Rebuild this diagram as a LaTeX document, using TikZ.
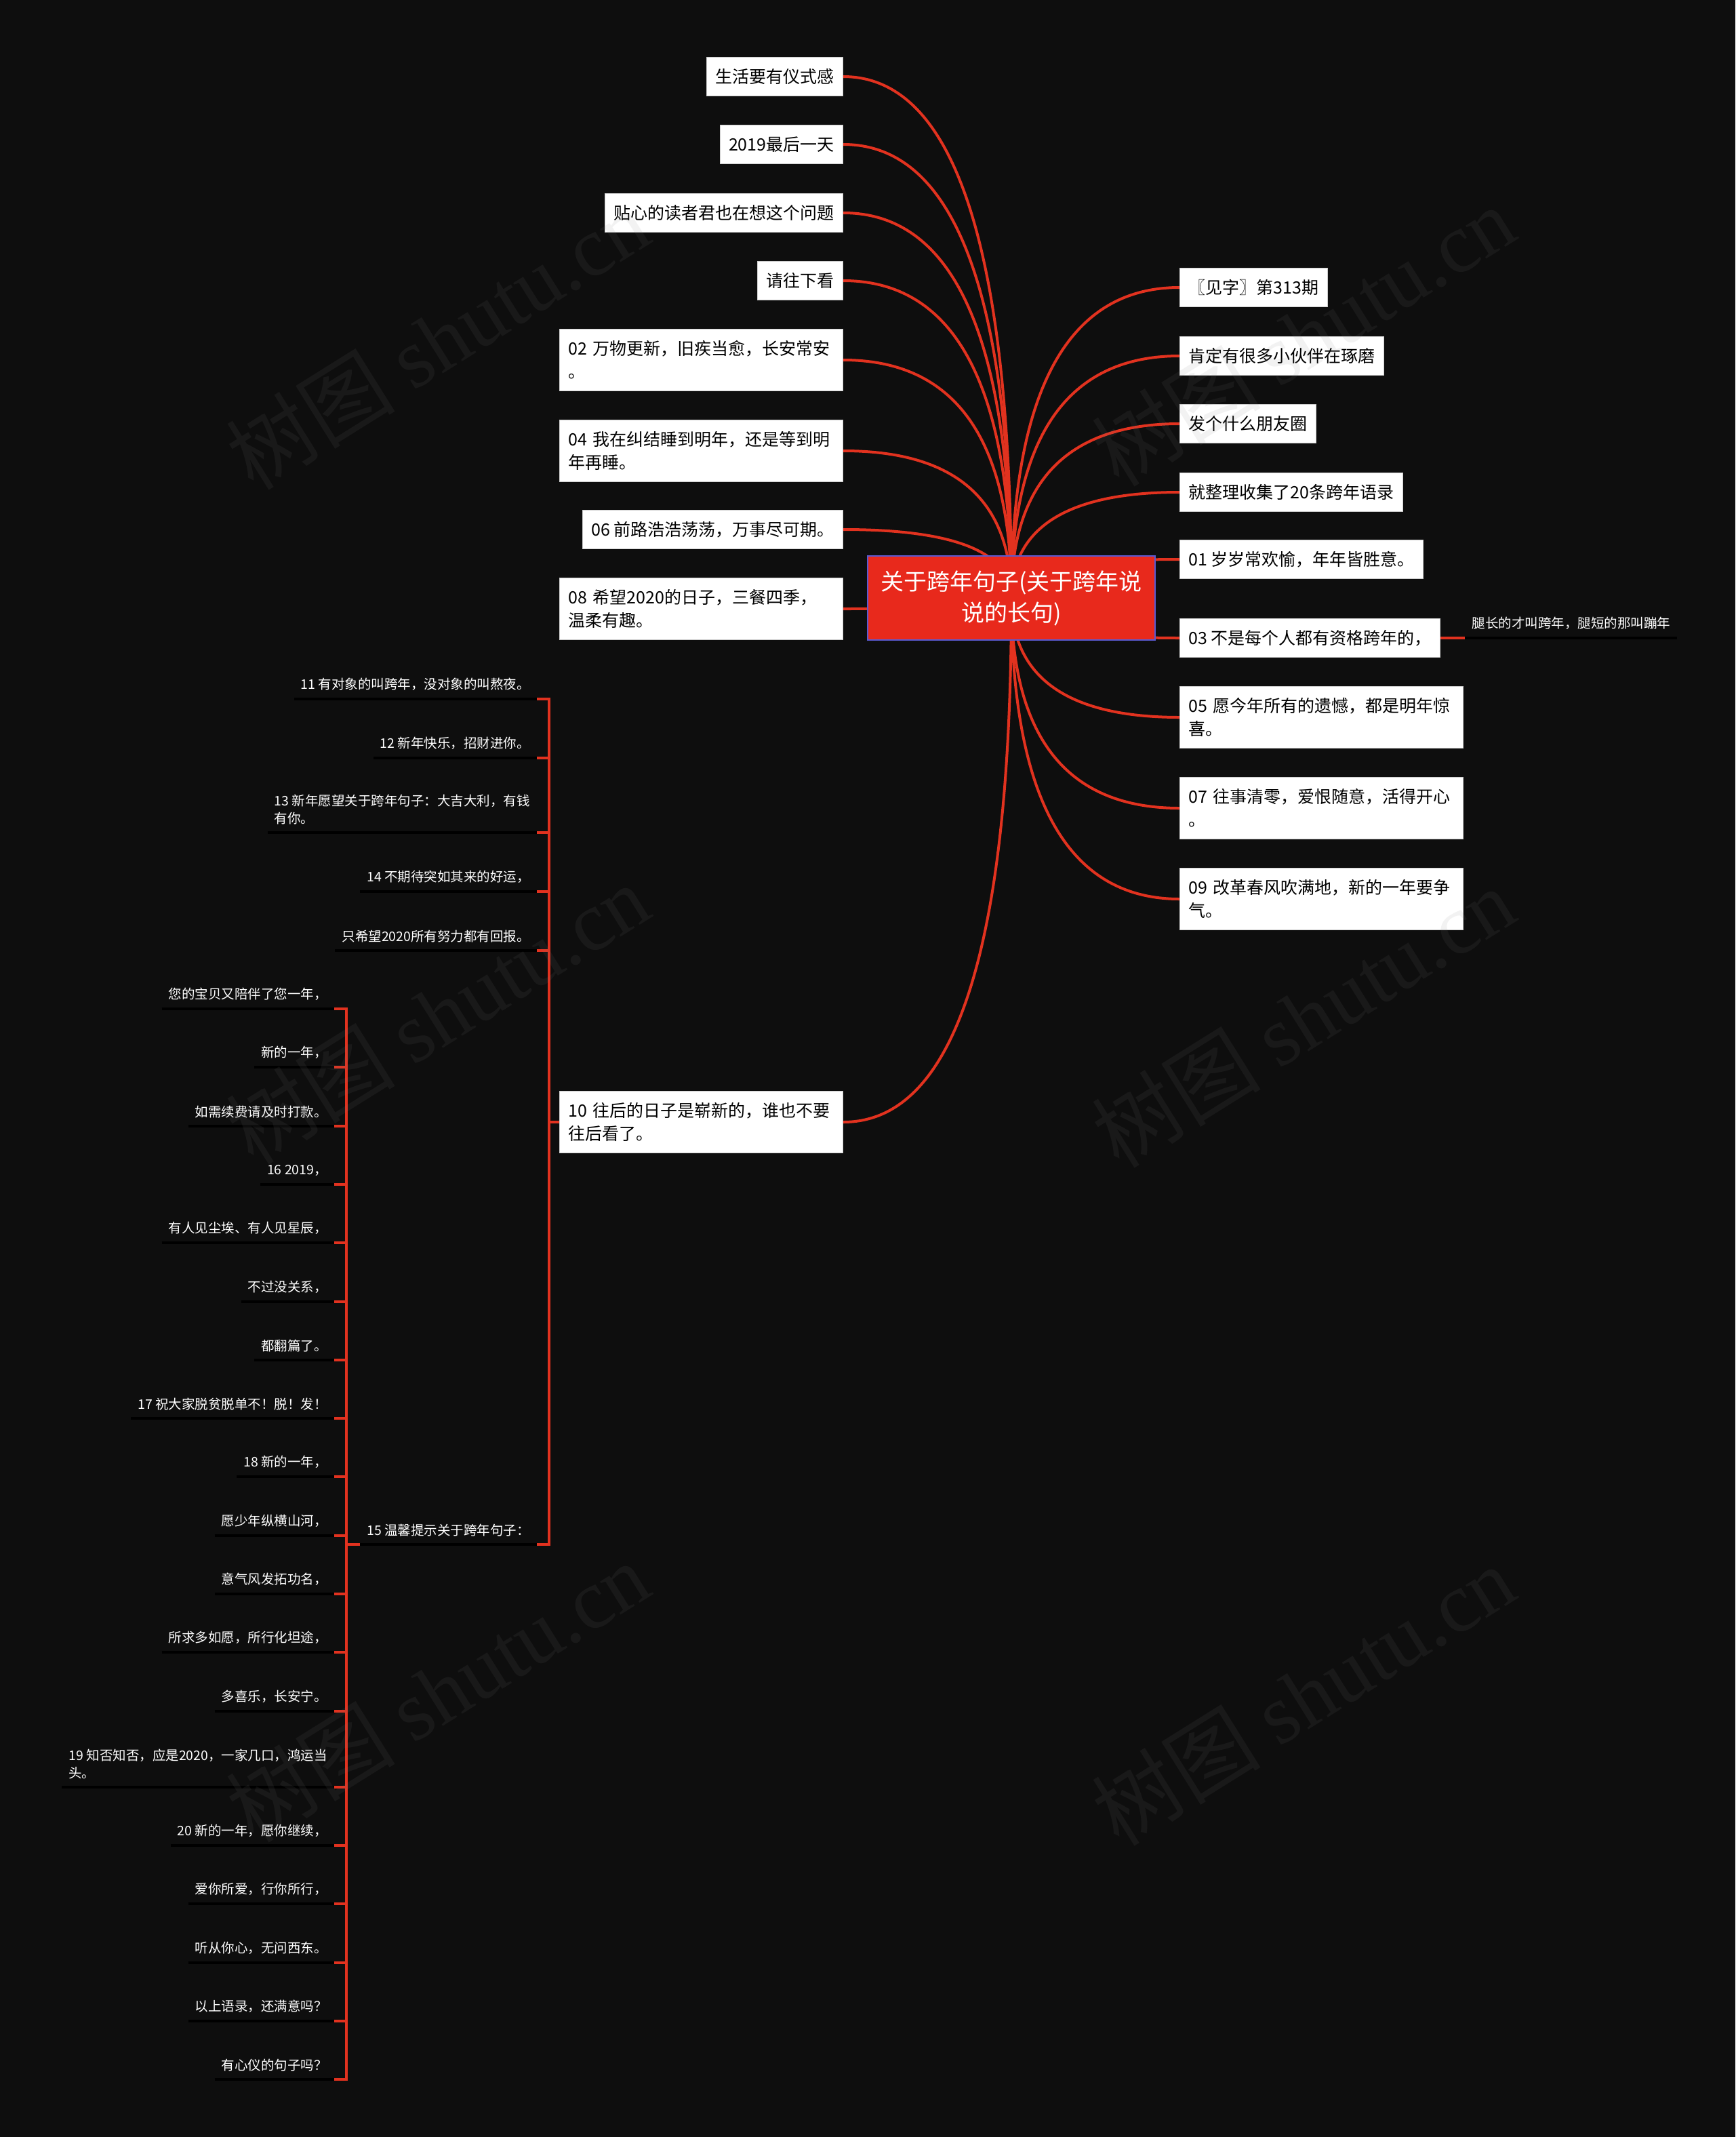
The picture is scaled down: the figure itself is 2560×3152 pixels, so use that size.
\documentclass[tikz,border=0pt]{standalone}
\usepackage{fontspec}
\setmainfont{Noto Sans CJK SC}
\newfontfamily\wmfont{Liberation Serif}
\usetikzlibrary{calc, backgrounds}
\definecolor{bgcolor}{HTML}{0E0E0E}
\definecolor{hubcolor}{HTML}{E8291C}
\definecolor{rimcolor}{HTML}{5A5AD2}
\definecolor{linkcolor}{HTML}{E2321F}

\begin{document}
\begin{tikzpicture}[x=1pt, y=-1pt,
    hub/.style={rectangle, fill=hubcolor, draw=rimcolor, line width=2pt, text=white, align=center, minimum width=424pt, minimum height=124pt, font=\fontsize{34pt}{46pt}\selectfont},
    topic/.style={rectangle, fill=white, draw=gray!40, line width=1pt, text=black, inner xsep=13pt, inner ysep=17pt, font=\fontsize{25pt}{34pt}\selectfont},
    wide/.style={topic, text width=392pt, align=left},
    leaf/.style={text=white, align=left, inner xsep=10pt, inner ysep=12pt, font=\fontsize{19.5pt}{26pt}\selectfont,
      append after command={(\tikzlastnode.south west) edge[uline] (\tikzlastnode.south east)}},
    uline/.style={draw=black, line width=4pt},
    link/.style={draw=linkcolor, line width=4pt},
    twig/.style={to path={.. controls ($(\tikztostart)!.667!(\tikztostart |- \tikztotarget)$) and ($(\tikztotarget)!.667!(\tikztostart |- \tikztotarget)$) .. (\tikztotarget)}},
    elbow/.style={to path={|- (\tikztotarget)}},
    wmark/.style={text=gray, text opacity=0.1, rotate=32, font=\fontsize{125pt}{125pt}\selectfont},
  ]
  \useasboundingbox (0,0) rectangle (2560,3152);

  % centre
  \node[hub] (hub) at (1492,882) {关于跨年句子(关于跨年说\\说的长句)};

  % left side
  \node[topic, anchor=east] (ln1) at (1244,113) {生活要有仪式感};
  \node[topic, anchor=east] (ln2) at (1244,213) {2019最后一天};
  \node[topic, anchor=east] (ln3) at (1244,314) {贴心的读者君也在想这个问题};
  \node[topic, anchor=east] (ln4) at (1244,414) {请往下看};
  \node[wide, anchor=east] (ln5) at (1244,531) {02 万物更新，旧疾当愈，长安常安\\。};
  \node[wide, anchor=east] (ln6) at (1244,665) {04 我在纠结睡到明年，还是等到明\\年再睡。};
  \node[topic, anchor=east] (ln7) at (1244,781) {06 前路浩浩荡荡，万事尽可期。};
  \node[wide, anchor=east] (ln8) at (1244,898) {08 希望2020的日子，三餐四季，\\温柔有趣。};
  \node[wide, anchor=east] (ln9) at (1244,1655) {10 往后的日子是崭新的，谁也不要\\往后看了。};

  % right side
  \node[topic, anchor=west] (rn1) at (1740,424) {〖见字〗第313期};
  \node[topic, anchor=west] (rn2) at (1740,525) {肯定有很多小伙伴在琢磨};
  \node[topic, anchor=west] (rn3) at (1740,625) {发个什么朋友圈};
  \node[topic, anchor=west] (rn4) at (1740,726) {就整理收集了20条跨年语录};
  \node[topic, anchor=west] (rn5) at (1740,825) {01 岁岁常欢愉，年年皆胜意。};
  \node[topic, anchor=west] (rn6) at (1740,941) {03 不是每个人都有资格跨年的，};
  \node[wide, anchor=west] (rn7) at (1740,1058) {05 愿今年所有的遗憾，都是明年惊\\喜。};
  \node[wide, anchor=west] (rn8) at (1740,1192) {07 往事清零，爱恨随意，活得开心\\。};
  \node[wide, anchor=west] (rn9) at (1740,1326) {09 改革春风吹满地，新的一年要争\\气。};
  \node[leaf, anchor=south west] (leg) at ([xshift=36pt]rn6.east) {腿长的才叫跨年，腿短的那叫蹦年};

  % under 10
  \coordinate (b10) at (810,0);
  \node[leaf, anchor=south east] (t11) at (792,1031) {11 有对象的叫跨年，没对象的叫熬夜。};
  \node[leaf, anchor=south east] (t12) at (792,1118) {12 新年快乐，招财进你。};
  \node[leaf, anchor=south east] (t13) at (792,1228) {13 新年愿望关于跨年句子：大吉大利，有钱\\有你。};
  \node[leaf, anchor=south east] (t14) at (792,1315) {14 不期待突如其来的好运，};
  \node[leaf, anchor=south east] (t14b) at (792,1402) {只希望2020所有努力都有回报。};
  \node[leaf, anchor=south east] (t15) at (792,2278) {15 温馨提示关于跨年句子：};

  % under 15
  \coordinate (b15) at (511,0);
  \node[leaf, anchor=south east] (s1) at (493,1488) {您的宝贝又陪伴了您一年，};
  \node[leaf, anchor=south east] (s2) at (493,1574) {新的一年，};
  \node[leaf, anchor=south east] (s3) at (493,1661) {如需续费请及时打款。};
  \node[leaf, anchor=south east] (s4) at (493,1747) {16 2019，};
  \node[leaf, anchor=south east] (s5) at (493,1833) {有人见尘埃、有人见星辰，};
  \node[leaf, anchor=south east] (s6) at (493,1920) {不过没关系，};
  \node[leaf, anchor=south east] (s7) at (493,2006) {都翻篇了。};
  \node[leaf, anchor=south east] (s8) at (493,2092) {17 祝大家脱贫脱单不！脱！发！};
  \node[leaf, anchor=south east] (s9) at (493,2178) {18 新的一年，};
  \node[leaf, anchor=south east] (s10) at (493,2265) {愿少年纵横山河，};
  \node[leaf, anchor=south east] (s11) at (493,2351) {意气风发拓功名，};
  \node[leaf, anchor=south east] (s12) at (493,2437) {所求多如愿，所行化坦途，};
  \node[leaf, anchor=south east] (s13) at (493,2524) {多喜乐，长安宁。};
  \node[leaf, anchor=south east] (s14) at (493,2636) {19 知否知否，应是2020，一家几口，鸿运当\\头。};
  \node[leaf, anchor=south east] (s15) at (493,2722) {20 新的一年，愿你继续，};
  \node[leaf, anchor=south east] (s16) at (493,2808) {爱你所爱，行你所行，};
  \node[leaf, anchor=south east] (s17) at (493,2895) {听从你心，无问西东。};
  \node[leaf, anchor=south east] (s18) at (493,2981) {以上语录，还满意吗？};
  \node[leaf, anchor=south east] (s19) at (493,3067) {有心仪的句子吗？};

  \begin{scope}[on background layer]
    \fill[bgcolor] (0,0) rectangle (2560,3152);
    \path[link] (hub.center)
      edge[twig] (ln1.east) edge[twig] (ln2.east) edge[twig] (ln3.east)
      edge[twig] (ln4.east) edge[twig] (ln5.east) edge[twig] (ln6.east)
      edge[twig] (ln7.east) edge[twig] (ln8.east) edge[twig] (ln9.east)
      edge[twig] (rn1.west) edge[twig] (rn2.west) edge[twig] (rn3.west)
      edge[twig] (rn4.west) edge[twig] (rn5.west) edge[twig] (rn6.west)
      edge[twig] (rn7.west) edge[twig] (rn8.west) edge[twig] (rn9.west);
    \draw[link] (rn6.east) -- (leg.south west);
    \path[link] (b10 |- ln9.west) edge (ln9.west)
      edge[elbow] (t11.south east) edge[elbow] (t12.south east)
      edge[elbow] (t13.south east) edge[elbow] (t14.south east)
      edge[elbow] (t14b.south east) edge[elbow] (t15.south east);
    \path[link] (b15 |- t15.south west) edge (t15.south west)
      edge[elbow] (s1.south east) edge[elbow] (s2.south east) edge[elbow] (s3.south east)
      edge[elbow] (s4.south east) edge[elbow] (s5.south east) edge[elbow] (s6.south east)
      edge[elbow] (s7.south east) edge[elbow] (s8.south east) edge[elbow] (s9.south east)
      edge[elbow] (s10.south east) edge[elbow] (s11.south east) edge[elbow] (s12.south east)
      edge[elbow] (s13.south east) edge[elbow] (s14.south east) edge[elbow] (s15.south east)
      edge[elbow] (s16.south east) edge[elbow] (s17.south east) edge[elbow] (s18.south east)
      edge[elbow] (s19.south east);
  \end{scope}

  % watermark
  \node[wmark] (wm1) at (645,500) {树图 {\wmfont shutu.cn}};
  \node[wmark] (wm2) at (1922,495) {树图 {\wmfont shutu.cn}};
  \node[wmark] (wm3) at (645,1495) {树图 {\wmfont shutu.cn}};
  \node[wmark] (wm4) at (1922,1500) {树图 {\wmfont shutu.cn}};
  \node[wmark] (wm5) at (645,2495) {树图 {\wmfont shutu.cn}};
  \node[wmark] (wm6) at (1922,2500) {树图 {\wmfont shutu.cn}};
\end{tikzpicture}
\end{document}
